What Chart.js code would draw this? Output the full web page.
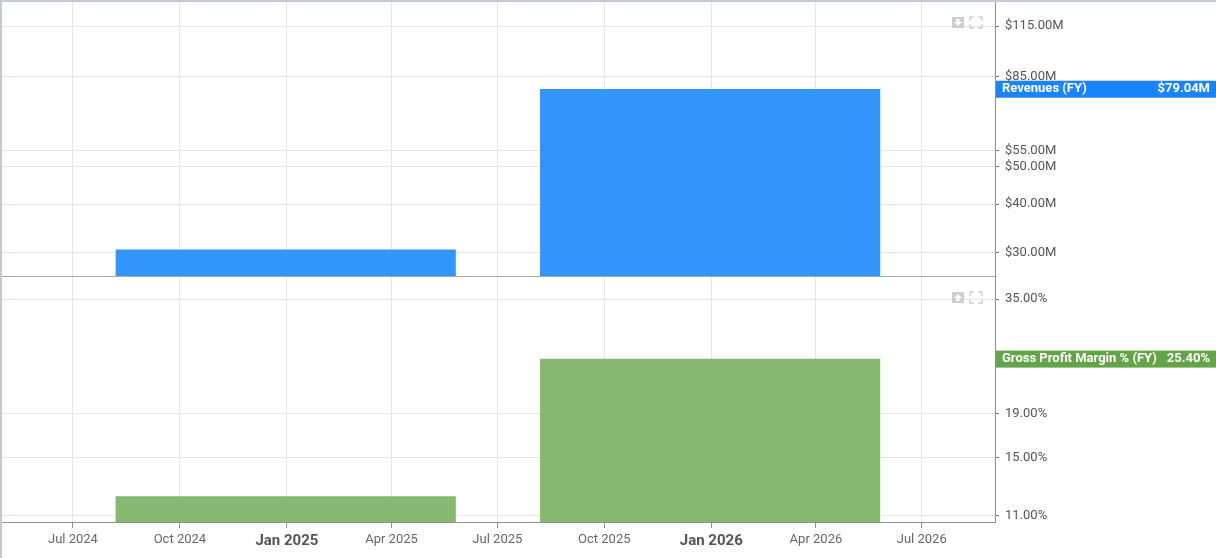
<!DOCTYPE html>
<html>
<head>
    <title>Revenues and Gross Profit Margin</title>
    <script src="https://cdn.jsdelivr.net/npm/chart.js"></script>
    <style>
        body {
            margin: 0;
            width: 1216px;
            height: 558px;
            overflow: hidden;
            background-color: white;
            font-family: Roboto, Arial, sans-serif;
        }
        .frame {
            border-top: 2px solid #c3cad5;
            border-left: 2px solid #c3cad5;
            width: 1214px;
            height: 556px;
        }
        .panel-top {
            position: relative;
            width: 1214px;
            height: 275px;
        }
        .panel-bottom {
            position: relative;
            width: 1214px;
            height: 281px;
        }
    </style>
</head>
<body>
    <div class="frame">
        <div class="panel-top"><canvas id="revenueChart"></canvas></div>
        <div class="panel-bottom"><canvas id="marginChart"></canvas></div>
    </div>

    <script>
        // fiscal year bars (centre dates)
        const periods = ['2024-12-31', '2025-12-31'];
        const revenues = [30.5, 79.04];      // $M
        const grossMargin = [12.2, 25.4];    // %

        // axis ticks
        const xTickDates = ['2024-07-01', '2024-10-01', '2025-01-01', '2025-04-01', '2025-07-01',
                            '2025-10-01', '2026-01-01', '2026-04-01', '2026-07-01'];
        const xTickLabels = ['Jul 2024', 'Oct 2024', 'Jan 2025', 'Apr 2025', 'Jul 2025',
                             'Oct 2025', 'Jan 2026', 'Apr 2026', 'Jul 2026'];
        const revenueTicks = [30, 40, 50, 55, 85, 115];
        const marginTicks = [11, 15, 19, 35];

        const xMin = '2024-05-01';
        const xMax = '2026-09-02';

        function toMs(d) {
            const p = d.split('-').map(Number);
            return Date.UTC(p[0], p[1] - 1, p[2]);
        }

        const xTicks = xTickDates.map(toMs);
        const labelFor = {};
        xTicks.forEach((t, i) => labelFor[t] = xTickLabels[i]);

        function isYearStart(ctx) {
            return !!(ctx && ctx.tick && (labelFor[ctx.tick.value] || '').startsWith('Jan'));
        }

        const GRID = '#e6e6e6';
        const AXIS = '#8f8f8f';
        const Y_WIDTH = 221;

        function xScale(showLabels) {
            return {
                type: 'linear',
                min: toMs(xMin),
                max: toMs(xMax),
                offset: false,
                afterBuildTicks: s => { s.ticks = xTicks.map(v => ({ value: v })); },
                afterFit: s => { s.paddingLeft = 0; s.paddingRight = 0; },
                grid: {
                    color: GRID,
                    offset: false,
                    drawTicks: showLabels,
                    tickLength: 6,
                    tickColor: AXIS
                },
                border: { color: showLabels ? AXIS : '#a8a8a8' },
                ticks: {
                    display: showLabels,
                    autoSkip: false,
                    maxRotation: 0,
                    padding: 4,
                    color: ctx => isYearStart(ctx) ? '#555' : '#666',
                    font: ctx => isYearStart(ctx)
                        ? { family: 'Roboto', size: 15, weight: 'bold' }
                        : { family: 'Roboto', size: 13 },
                    callback: v => labelFor[v] || ''
                }
            };
        }

        function yScale(min, max, ticks, fmt) {
            return {
                type: 'logarithmic',
                position: 'right',
                min: min,
                max: max,
                afterBuildTicks: s => { s.ticks = ticks.map(v => ({ value: v })); },
                afterFit: s => { s.width = Y_WIDTH; s.paddingTop = 0; s.paddingBottom = 0; },
                grid: {
                    color: GRID,
                    drawTicks: true,
                    tickLength: 4,
                    tickColor: '#777'
                },
                border: { color: AXIS },
                ticks: {
                    autoSkip: false,
                    padding: 6,
                    color: '#555',
                    font: { family: 'Roboto', size: 13 },
                    callback: fmt
                }
            };
        }

        // value tag on the right axis + small panel icons
        function tagPlugin(name, value, colour, text, arrowUp) {
            return {
                id: 'tag',
                afterDraw(chart) {
                    const c = chart.ctx;
                    const area = chart.chartArea;
                    const y = chart.scales.y.getPixelForValue(value);
                    c.save();
                    c.fillStyle = colour;
                    c.fillRect(area.right + 1, y - 8.5, chart.width - area.right, 17);
                    c.fillStyle = '#fff';
                    c.font = 'bold 13px Roboto';
                    c.textBaseline = 'middle';
                    c.textAlign = 'left';
                    c.fillText(name, area.right + 7, y);
                    c.textAlign = 'right';
                    c.fillText(text, chart.width - 6, y);

                    // download / expand icons
                    const ix = area.right - 43, iy = area.top + 15;
                    c.fillStyle = '#cfcfcf';
                    c.fillRect(ix, iy, 12, 11);
                    c.fillStyle = '#fff';
                    c.beginPath();
                    if (arrowUp) {
                        c.moveTo(ix + 6, iy + 2); c.lineTo(ix + 10, iy + 6); c.lineTo(ix + 2, iy + 6);
                        c.fill();
                        c.fillRect(ix + 4.5, iy + 6, 3, 3);
                    } else {
                        c.moveTo(ix + 6, iy + 9); c.lineTo(ix + 10, iy + 5); c.lineTo(ix + 2, iy + 5);
                        c.fill();
                        c.fillRect(ix + 4.5, iy + 2, 3, 3);
                    }
                    const bx = area.right - 25;
                    c.strokeStyle = '#cfcfcf';
                    c.lineWidth = 1.5;
                    c.beginPath();
                    c.moveTo(bx, iy + 4); c.lineTo(bx, iy); c.lineTo(bx + 4, iy);
                    c.moveTo(bx + 8, iy); c.lineTo(bx + 12, iy); c.lineTo(bx + 12, iy + 4);
                    c.moveTo(bx + 12, iy + 7); c.lineTo(bx + 12, iy + 11); c.lineTo(bx + 8, iy + 11);
                    c.moveTo(bx + 4, iy + 11); c.lineTo(bx, iy + 11); c.lineTo(bx, iy + 7);
                    c.stroke();
                    c.restore();
                }
            };
        }

        function makeChart(id, values, colour, yOpts, showX, padding, plugin) {
            return new Chart(document.getElementById(id), {
                type: 'bar',
                data: {
                    datasets: [{
                        data: periods.map((p, i) => ({ x: toMs(p), y: values[i] })),
                        backgroundColor: colour,
                        borderWidth: 0,
                        barThickness: 'flex',
                        barPercentage: 0.8,
                        categoryPercentage: 1.0
                    }]
                },
                options: {
                    responsive: true,
                    maintainAspectRatio: false,
                    animation: false,
                    layout: { padding: padding },
                    plugins: {
                        legend: { display: false },
                        tooltip: { enabled: false }
                    },
                    scales: {
                        x: xScale(showX),
                        y: yOpts
                    }
                },
                plugins: [plugin]
            });
        }

        const revLast = revenues[revenues.length - 1];
        makeChart('revenueChart', revenues, '#3396ff',
            yScale(26.1, 132.6, revenueTicks, v => '$' + Number(v).toFixed(2) + 'M'),
            false, { top: 0, bottom: 1, left: 0, right: 0 },
            tagPlugin('Revenues (FY)', revLast, '#1a84ff', '$' + revLast.toFixed(2) + 'M', false));

        const gmLast = grossMargin[grossMargin.length - 1];
        makeChart('marginChart', grossMargin, '#86b870',
            yScale(10.65, 39.36, marginTicks, v => Number(v).toFixed(2) + '%'),
            true, { top: 0, bottom: 4, left: 0, right: 0 },
            tagPlugin('Gross Profit Margin % (FY)', gmLast, '#64a449', gmLast.toFixed(2) + '%', true));
    </script>
</body>
</html>
